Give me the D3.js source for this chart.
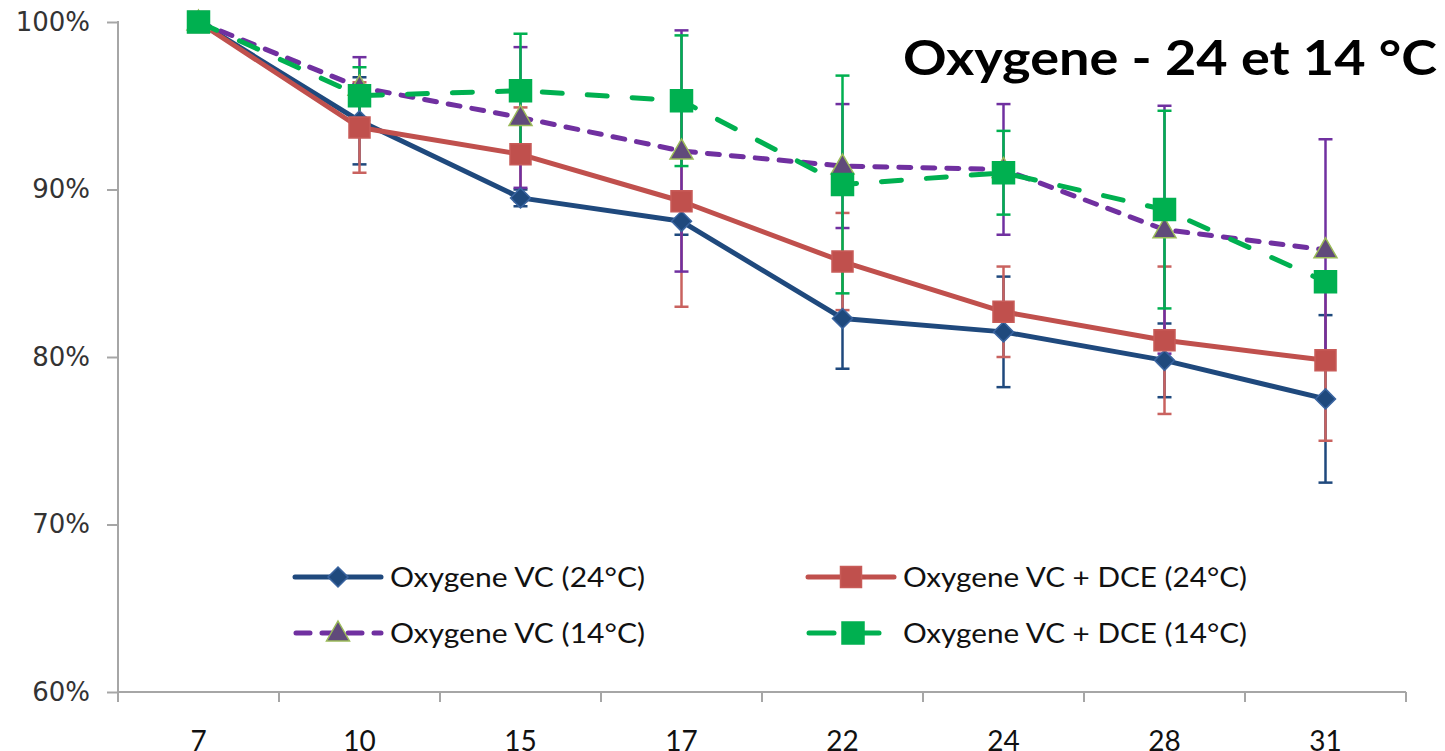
<!DOCTYPE html>
<html lang="fr">
<head>
<meta charset="utf-8">
<title>Oxygene - 24 et 14 °C</title>
<script src="https://d3js.org/d3.v7.min.js"></script>
<style>
body { margin: 0; background: #fff; }
#vis svg { display: block; }
</style>
</head>
<body>
<div id="vis"></div>
<script>

/* Data */
/* ==== */

var days = ['7', '10', '15', '17', '22', '24', '28', '31'];
var yTicks = [0.6, 0.7, 0.8, 0.9, 1.0];

var vc24     = [1.000, 0.941, 0.895, 0.881, 0.823, 0.815, 0.798, 0.775];
var vc24Err  = [0.000, 0.026, 0.005, 0.008, 0.030, 0.033, 0.022, 0.050];

var dce24    = [1.000, 0.937, 0.921, 0.893, 0.857, 0.827, 0.810, 0.798];
var dce24Err = [0.000, 0.027, 0.028, 0.063, 0.029, 0.027, 0.044, 0.048];

var vc14     = [1.000, 0.961, 0.943, 0.923, 0.914, 0.912, 0.876, 0.864];
var vc14Err  = [0.000, 0.018, 0.042, 0.072, 0.037, 0.039, 0.074, 0.066];

var dce14    = [1.000, 0.956, 0.959, 0.953, 0.903, 0.910, 0.888, 0.845];
var dce14Err = [0.000, 0.017, 0.034, 0.039, 0.065, 0.025, 0.059, 0.004];

var seriesNames = ['Oxygene VC (24°C)', 'Oxygene VC + DCE (24°C)', 'Oxygene VC (14°C)', 'Oxygene VC + DCE (14°C)'];

var series = [
	{ name: seriesNames[0], values: vc24,  err: vc24Err,  color: '#1F497D', bar: '#1F497D', dash: null,    marker: 'diamond',  fill: '#1F497D', stroke: '#3A64A0' },
	{ name: seriesNames[1], values: dce24, err: dce24Err, color: '#C0504D', bar: '#C9625F', dash: null,    marker: 'square',   fill: '#C0504D', stroke: '#C85B58', size: 21 },
	{ name: seriesNames[2], values: vc14,  err: vc14Err,  color: '#7030A0', bar: '#7030A0', dash: '12 12', marker: 'triangle', fill: '#604A7B', stroke: '#9BBB59' },
	{ name: seriesNames[3], values: dce14, err: dce14Err, color: '#00B050', bar: '#00B050', dash: '20 25', marker: 'square',   fill: '#00B050', stroke: '#00B050', size: 22 }
];


/* SVG */
/* === */

var W = 1445, H = 751;
var plot = { left: 118, right: 1406, top: 22, bottom: 692 };

var svg = d3.select('#vis')
	.append('svg')
		.attr('width', W)
		.attr('height', H);

var x = d3.scaleBand()
	.domain(days)
	.range([plot.left, plot.right])
	.paddingInner(0)
	.paddingOuter(0);

var y = d3.scaleLinear()
	.domain([0.6, 1.0])
	.range([plot.bottom, plot.top]);

function cx(i) { return x(days[i]) + x.bandwidth() / 2; }


/* Functions */
/* ========= */

function markerPath(type, size) {
	var h;
	if (type === 'diamond') {
		h = 10;
		return 'M0,' + (-h) + 'L' + h + ',0L0,' + h + 'L' + (-h) + ',0Z';
	}
	if (type === 'triangle') {
		return 'M0,-12L11.5,8L-11.5,8Z';
	}
	h = (size || 20) / 2;
	return 'M' + (-h) + ',' + (-h) + 'H' + h + 'V' + h + 'H' + (-h) + 'Z';
}

function drawAxes() {

	var yAxis = d3.axisLeft(y)
		.tickValues(yTicks)
		.tickFormat(d3.format('.0%'))
		.tickSize(11)
		.tickPadding(17);

	var gy = svg.append('g')
		.attr('class', 'y axis')
		.attr('transform', 'translate(' + plot.left + ',0)')
		.call(yAxis);

	gy.select('.domain').remove();
	gy.selectAll('.tick line').attr('stroke', '#A6A6A6').attr('stroke-width', 2);
	gy.selectAll('.tick text')
		.attr('fill', '#333')
		.style('font-family', '"DejaVu Sans", Verdana, sans-serif')
		.style('font-size', '26px');

	svg.append('line')
		.attr('x1', plot.left).attr('x2', plot.left)
		.attr('y1', plot.top - 1).attr('y2', plot.bottom + 1)
		.attr('stroke', '#A6A6A6').attr('stroke-width', 2);

	// category axis: ticks between categories, labels in the middle
	var gx = svg.append('g').attr('class', 'x axis');

	gx.append('line')
		.attr('x1', plot.left).attr('x2', plot.right)
		.attr('y1', plot.bottom).attr('y2', plot.bottom)
		.attr('stroke', '#A6A6A6').attr('stroke-width', 2);

	var edges = days.map(function(d) { return x(d); }).concat([x.range()[1]]);

	gx.selectAll('.xtick')
		.data(edges)
		.enter().append('line')
			.attr('class', 'xtick')
			.attr('x1', function(d) { return d; })
			.attr('x2', function(d) { return d; })
			.attr('y1', plot.bottom)
			.attr('y2', plot.bottom + 10)
			.attr('stroke', '#A6A6A6').attr('stroke-width', 2);

	gx.selectAll('.xlabel')
		.data(days)
		.enter().append('text')
			.attr('class', 'xlabel')
			.attr('x', function(d) { return x(d) + x.bandwidth() / 2; })
			.attr('y', 751)
			.attr('text-anchor', 'middle')
			.attr('fill', '#111')
			.style('font-family', 'Lato, "Open Sans", sans-serif')
			.style('font-size', '28px')
			.text(function(d) { return d; });

} // drawAxes()

function drawErrorBars() {

	var cap = 7;

	series.forEach(function(s) {

		var g = svg.append('g').attr('class', 'errbars');

		s.values.forEach(function(v, i) {
			var e = s.err[i];
			if (!e) return;
			var px = cx(i), y0 = y(v - e), y1 = y(v + e);
			g.append('line')
				.attr('x1', px).attr('x2', px).attr('y1', y0).attr('y2', y1)
				.attr('stroke', s.bar).attr('stroke-width', 2.5);
			[y0, y1].forEach(function(yy) {
				g.append('line')
					.attr('x1', px - cap).attr('x2', px + cap).attr('y1', yy).attr('y2', yy)
					.attr('stroke', s.bar).attr('stroke-width', 2.5);
			});
		});

	});

} // drawErrorBars()

function drawSeries() {

	var line = d3.line()
		.x(function(d, i) { return cx(i); })
		.y(function(d) { return y(d); });

	series.forEach(function(s) {

		var g = svg.append('g').attr('class', 'series');

		g.append('path')
			.datum(s.values)
			.attr('d', line)
			.attr('fill', 'none')
			.attr('stroke', s.color)
			.attr('stroke-width', 5)
			.attr('stroke-linejoin', 'round')
			.attr('stroke-linecap', s.dash ? 'round' : 'butt')
			.attr('stroke-dasharray', s.dash);

		g.selectAll('.marker')
			.data(s.values)
			.enter().append('path')
				.attr('class', 'marker')
				.attr('transform', function(d, i) { return 'translate(' + cx(i) + ',' + y(d) + ')'; })
				.attr('d', markerPath(s.marker, s.size))
				.attr('fill', s.fill)
				.attr('stroke', s.stroke)
				.attr('stroke-width', 1.5);

	});

} // drawSeries()

function drawLegend() {

	var cols = [293, 806];
	var rows = [577, 633];
	var textWidths = [255, 344];

	series.forEach(function(s, i) {

		var col = i % 2, row = Math.floor(i / 2);
		var x0 = cols[col], yy = rows[row];
		var g = svg.append('g')
			.attr('class', 'legend')
			.attr('transform', 'translate(' + x0 + ',' + yy + ')');

		if (s.dash === null) {
			g.append('line')
				.attr('x1', 2).attr('x2', 88)
				.attr('stroke', s.color).attr('stroke-width', 5).attr('stroke-linecap', 'round');
		} else if (s.marker === 'triangle') {
			g.append('line')
				.attr('x1', 3).attr('x2', 88)
				.attr('stroke', s.color).attr('stroke-width', 5).attr('stroke-linecap', 'round')
				.attr('stroke-dasharray', '14 12');
		} else {
			g.append('line')
				.attr('x1', 3).attr('x2', 28)
				.attr('stroke', s.color).attr('stroke-width', 5).attr('stroke-linecap', 'round');
			g.append('line')
				.attr('x1', 58).attr('x2', 73)
				.attr('stroke', s.color).attr('stroke-width', 5).attr('stroke-linecap', 'round');
		}

		g.append('path')
			.attr('transform', 'translate(' + (s.marker === 'square' && s.dash ? 47 : 45) + ',0)')
			.attr('d', markerPath(s.marker, s.size))
			.attr('fill', s.fill)
			.attr('stroke', s.stroke)
			.attr('stroke-width', 1.5);

		g.append('text')
			.attr('x', 97)
			.attr('y', 10)
			.attr('fill', '#111')
			.attr('textLength', textWidths[col])
			.attr('lengthAdjust', 'spacingAndGlyphs')
			.style('font-family', 'Lato, "Open Sans", sans-serif')
			.style('font-size', '27px')
			.text(s.name);

	});

} // drawLegend()

function drawTitle() {

	svg.append('text')
		.attr('x', 903)
		.attr('y', 75)
		.attr('textLength', 534)
		.attr('lengthAdjust', 'spacingAndGlyphs')
		.attr('fill', '#000')
		.style('font-family', 'Lato, "Open Sans", sans-serif')
		.style('font-weight', 'bold')
		.style('font-size', '48px')
		.text('Oxygene - 24 et 14 °C');

} // drawTitle()


/* Build */
/* ===== */

drawAxes();
drawErrorBars();
drawSeries();
drawLegend();
drawTitle();

</script>
</body>
</html>
